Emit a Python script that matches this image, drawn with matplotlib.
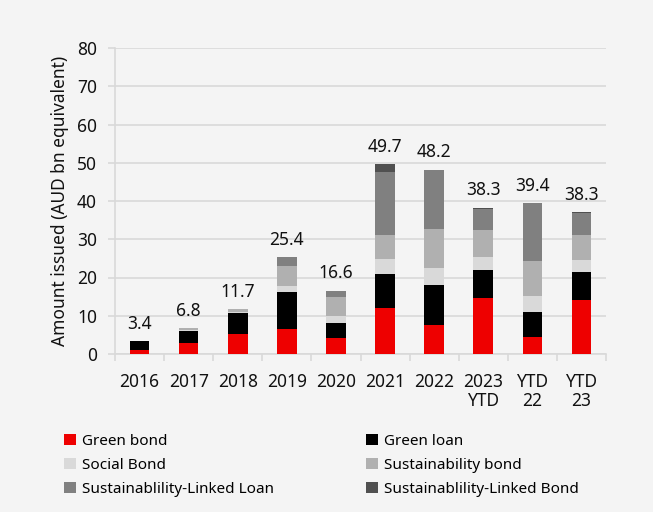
import matplotlib
matplotlib.use("Agg")
import matplotlib.pyplot as plt
import numpy as np

categories = ["2016", "2017", "2018", "2019", "2020", "2021", "2022", "2023\nYTD", "YTD\n22", "YTD\n23"]
series_names = ["Green bond", "Green loan", "Social Bond", "Sustainability bond",
                "Sustainablility-Linked Loan", "Sustainablility-Linked Bond"]
green_bond = [1.0, 3.0, 5.1, 6.6, 4.3, 12.0, 7.6, 14.7, 4.4, 14.1]
green_loan = [2.3, 2.9, 5.7, 9.5, 3.9, 8.9, 10.5, 7.3, 6.6, 7.3]
social_bond = [0.0, 0.5, 0.3, 1.7, 1.8, 3.9, 4.5, 3.4, 4.1, 3.2]
sustainability_bond = [0.1, 0.4, 0.6, 5.3, 4.8, 6.2, 10.0, 7.0, 9.2, 6.6]
sll = [0.0, 0.0, 0.0, 2.3, 1.8, 16.5, 15.5, 5.6, 15.1, 5.6]
slb = [0.0, 0.0, 0.0, 0.0, 0.0, 2.2, 0.1, 0.3, 0.0, 0.3]
total_labels = ["3.4", "6.8", "11.7", "25.4", "16.6", "49.7", "48.2", "38.3", "39.4", "38.3"]

colors = ["#ee0000", "#000000", "#d9d9d9", "#b0b0b0", "#808080", "#505050"]
bg = "#f4f4f4"

plt.rcParams['font.family'] = ['Noto Sans', 'DejaVu Sans']

fig = plt.figure(figsize=(6.53, 5.12), dpi=100, facecolor=bg)
ax = fig.add_axes([115/653, 1-354/512, (606-115)/653, (354-48)/512])
ax.set_facecolor(bg)

x = np.arange(len(categories))
data = [green_bond, green_loan, social_bond, sustainability_bond, sll, slb]
bottom = np.zeros(len(categories))
handles = []
for vals, c, name in zip(data, colors, series_names):
    h = ax.bar(x, vals, 0.4, bottom=bottom, color=c, label=name, zorder=3)
    handles.append(h)
    bottom += np.array(vals)

for xi, top, lab in zip(x, bottom, total_labels):
    ax.annotate(lab, (xi, top), xytext=(0, 6), textcoords="offset points",
                ha="center", va="bottom", fontsize=12.5, color="#111111")

ax.set_xlim(-0.5, len(categories) - 0.5)
ax.set_ylim(0, 80)
ax.set_yticks(range(0, 81, 10))
ax.yaxis.grid(True, color="#d9d9d9", linewidth=1.2, zorder=0)
ax.set_axisbelow(True)
for s in ["top", "right"]:
    ax.spines[s].set_visible(False)
ax.spines["left"].set_color("#d9d9d9")
ax.spines["bottom"].set_color("#d9d9d9")
ax.spines["left"].set_linewidth(1.2)
ax.spines["bottom"].set_linewidth(1.2)

ax.set_xticks(x)
ax.set_xticklabels(categories, fontsize=12.5, color="#111111", linespacing=1.05)
ax.set_xticks(np.arange(-0.5, len(categories), 1), minor=True)
ax.tick_params(axis="x", which="major", length=0, pad=14)
ax.tick_params(axis="x", which="minor", length=5, color="#d9d9d9", width=1.2)
ax.tick_params(axis="y", length=5, color="#d9d9d9", width=1.2, pad=8, labelsize=12.5, labelcolor="#111111")
ax.set_ylabel("Amount issued (AUD bn equivalent)", fontsize=12.5, color="#111111", labelpad=6)

leg = fig.legend(handles=[handles[0], handles[2], handles[4], handles[1], handles[3], handles[5]],
                 labels=[series_names[0], series_names[2], series_names[4],
                         series_names[1], series_names[3], series_names[5]],
                 ncol=2, loc="upper left", bbox_to_anchor=(58/653, 1-428/512),
                 frameon=False, fontsize=11, handlelength=0.75, handleheight=0.75,
                 handletextpad=0.4, columnspacing=6.05, labelspacing=0.57, borderaxespad=0)

fig.savefig("out.png", dpi=100, facecolor=bg)
